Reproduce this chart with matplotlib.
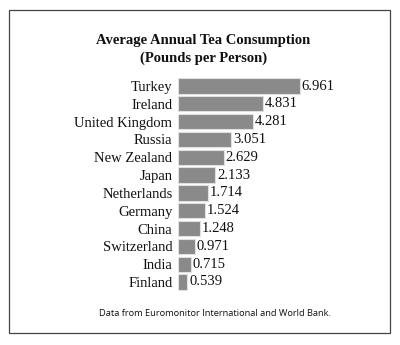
import matplotlib.pyplot as plt
from matplotlib.patches import Rectangle

# Tea consumption per person, pounds per year
countries = ['Turkey', 'Ireland', 'United Kingdom', 'Russia', 'New Zealand', 'Japan',
             'Netherlands', 'Germany', 'China', 'Switzerland', 'India', 'Finland']
pounds = [6.961, 4.831, 4.281, 3.051, 2.629, 2.133, 1.714, 1.524, 1.248, 0.971, 0.715, 0.539]

serif = ['Liberation Serif', 'DejaVu Serif']

fig = plt.figure(figsize=(4.0, 3.45), dpi=100)
fig.patch.set_facecolor('white')

# frame around the whole chart
fig.patches.append(Rectangle((0.0225, 0.035), 0.9525, 0.936, transform=fig.transFigure,
                             fill=False, edgecolor='#444444', linewidth=0.9))

ax = fig.add_axes([0.445, 0.1568, 0.35, 0.6197])
pos = list(range(len(countries)))
ax.barh(pos, pounds, height=0.86, color='#8a8a8a', edgecolor='#e0e0e0', linewidth=0.8)
ax.set_ylim(len(countries) - 0.5, -0.5)
ax.set_xlim(0, 8)

for y, v in zip(pos, pounds):
    ax.text(v + 0.1, y, f'{v:.3f}', va='center', ha='left', fontsize=10.5,
            family=serif, color='#111111')

ax.set_yticks(pos)
ax.set_yticklabels(countries, fontsize=10.5, family=serif, color='#111111')
ax.tick_params(axis='y', length=0, pad=4)
ax.set_xticks([])
for s in ax.spines.values():
    s.set_visible(False)

fig.text(0.508, 0.882, 'Average Annual Tea Consumption', ha='center', va='center',
         fontsize=10.5, fontweight='bold', family=serif, color='#111111')
fig.text(0.508, 0.830, '(Pounds per Person)', ha='center', va='center',
         fontsize=10.5, fontweight='bold', family=serif, color='#111111')

fig.text(0.537, 0.090, 'Data from Euromonitor International and World Bank.',
         ha='center', va='center', fontsize=6.7, family=['Open Sans', 'DejaVu Sans'],
         color='#111111')

fig.savefig('out.png', dpi=100)
